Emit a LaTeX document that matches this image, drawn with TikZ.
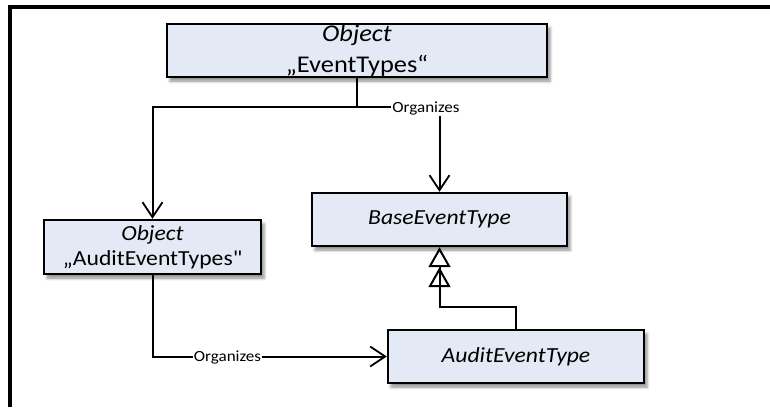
\documentclass[tikz,border=0pt]{standalone}
\usepackage{fontspec}
\setmainfont{Carlito}[FakeStretch=1.1, Ligatures=TeXOff]
\usetikzlibrary{arrows.meta,shadows.blur}
\definecolor{boxfill}{HTML}{E4EAF5}
\begin{document}
\begin{tikzpicture}[x=1pt,y=-1pt,
  box/.style={draw=black, line width=2.4pt, fill=boxfill, rectangle, inner sep=0pt, align=center,
     blur shadow={shadow xshift=3pt, shadow yshift=-4pt, shadow blur radius=3pt, shadow opacity=45}},
  bigfont/.style={font=\fontsize{24}{31}\selectfont},
  midfont/.style={font=\fontsize{21.5}{25}\selectfont},
  itfont/.style={font=\fontsize{21.5}{25}\selectfont\itshape},
  conn/.style={line width=2pt},
  barb/.style={-{Straight Barb[length=15pt,width=20pt,line width=1.8pt]}},
  gen/.style={-{Triangle[open,length=20pt,width=22pt,sep=0pt] Triangle[open,length=20pt,width=22pt,sep=0pt]}},
  lbl/.style={fill=white, inner sep=1pt, font=\fontsize{15.5}{18}\selectfont}]
\useasboundingbox (0,0) rectangle (770,407);
\draw[line width=4pt] (10,407) -- (10,7) -- (770,7);

\node[box, bigfont, minimum width=380pt, minimum height=53pt] (ev) at (357,50.5) {\textit{Object}\\„EventTypes“};
\node[box, midfont, minimum width=217pt, minimum height=54pt] (aet) at (152.5,247) {\textit{Object}\\„AuditEventTypes"};
\node[box, itfont, minimum width=255pt, minimum height=53pt] (base) at (439.5,219.5) {BaseEventType};
\node[box, itfont, minimum width=256pt, minimum height=53pt] (audit) at (516,356.5) {AuditEventType};

\coordinate (split) at (357,107);
\coordinate (gbend) at (439.5,307);
\draw[conn] (ev.south) -- (split);
\draw[conn, barb] (split) -| (aet.north);
\draw[conn, barb] (split) -| (base.north);
\node[lbl] (org1) at (426,108) {Organizes};
\draw[conn, barb] (aet.south) |- (audit.west);
\node[lbl] (org2) at (227.5,357) {Organizes};
\draw[conn, gen] (audit.north) |- (gbend) -- (base.south);
\end{tikzpicture}
\end{document}
